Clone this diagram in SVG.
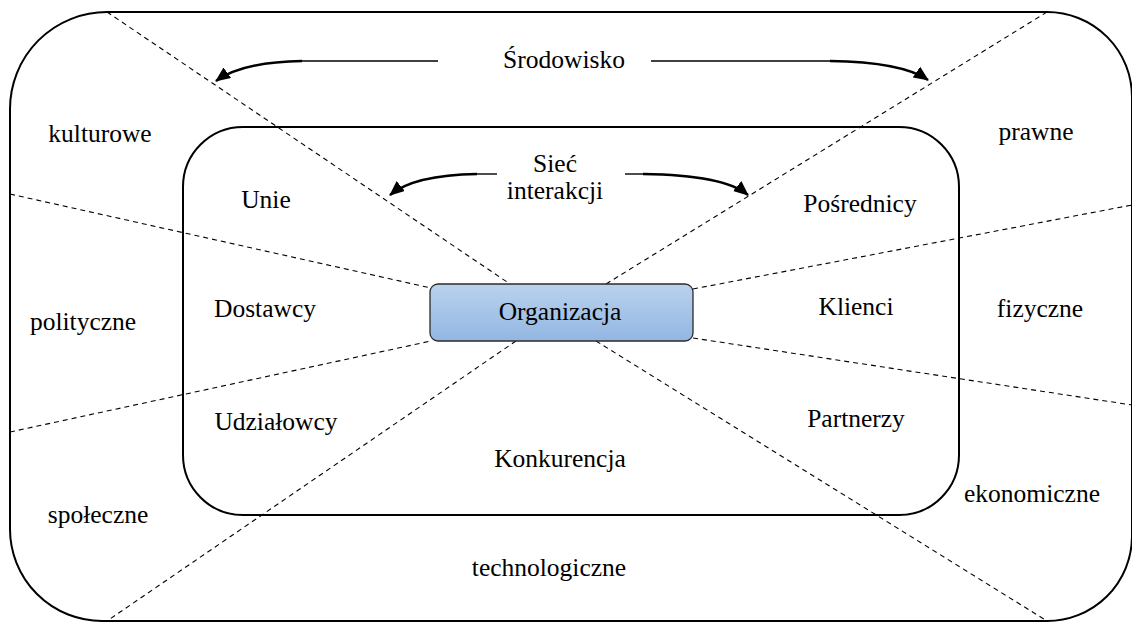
<svg xmlns="http://www.w3.org/2000/svg" width="1132" height="623" viewBox="0 0 1132 623">
  <style>
    .frame { fill: none; stroke: #000; stroke-width: 2; }
    .sector { fill: none; stroke: #000; stroke-width: 1.1; stroke-dasharray: 5 4; }
    .lead { fill: none; stroke: #000; stroke-width: 1.4; }
    .bend { fill: none; stroke: #000; stroke-width: 2.4; marker-end: url(#head); }
    .lbl { font-family: 'Liberation Serif', 'Times New Roman', serif; font-size: 25.5px; fill: #000; text-anchor: middle; }
  </style>
  <defs>
    <linearGradient id="orgFill" x1="0" y1="0" x2="0" y2="1">
      <stop offset="0" stop-color="#bad2ee"/>
      <stop offset="1" stop-color="#92b6e2"/>
    </linearGradient>
    <marker id="head" markerUnits="userSpaceOnUse" markerWidth="16" markerHeight="14" refX="14" refY="6.5" orient="auto">
      <path d="M0,0 L15,6.5 L0,13 Z" fill="#000"/>
    </marker>
  </defs>

  <!-- environment boundary -->
  <g id="environment">
    <path class="frame" d="M107,12 L1047,12 A85,85 0 0 1 1132,97 L1132,537 A85,85 0 0 1 1047,621 L102,621 A92,92 0 0 1 10,529 L10,109 A97,97 0 0 1 107,12 Z"/>
  </g>

  <!-- interaction network boundary -->
  <g id="network">
    <rect class="frame" x="183" y="127" width="776" height="388" rx="60" ry="60"/>
  </g>

  <!-- sector dividers and arrows -->
  <g id="connectors">
    <line class="sector" x1="107" y1="12" x2="510" y2="284"/>
    <line class="sector" x1="1047" y1="12" x2="606" y2="284"/>
    <line class="sector" x1="596" y1="341" x2="1047" y2="621"/>
    <line class="sector" x1="516" y1="341" x2="107" y2="621"/>
    <line class="sector" x1="10" y1="194" x2="431" y2="288"/>
    <line class="sector" x1="10" y1="432" x2="431" y2="341"/>
    <line class="sector" x1="693" y1="289" x2="1132" y2="205"/>
    <line class="sector" x1="693" y1="338" x2="1132" y2="405"/>

    <line class="lead" x1="438" y1="61" x2="302" y2="61"/>
    <path class="bend" d="M302,61 Q242,62 216,81"/>
    <line class="lead" x1="651" y1="61" x2="830" y2="61"/>
    <path class="bend" d="M830,61 Q902,62 928,80"/>

    <line class="lead" x1="497" y1="174" x2="477" y2="174"/>
    <path class="bend" d="M477,174 Q414,175 390,195"/>
    <line class="lead" x1="625" y1="174" x2="643" y2="174"/>
    <path class="bend" d="M643,174 Q724,175 748,195"/>
  </g>

  <g id="organizacja">
    <rect x="430" y="284" width="263" height="57" rx="8" ry="8" fill="url(#orgFill)" stroke="#2b2b2b" stroke-width="1.3"/>
    <text class="lbl" x="560" y="320">Organizacja</text>
  </g>

  <g id="srodowisko"><text class="lbl" x="564" y="68">Środowisko</text></g>
  <g id="siec"><text class="lbl" x="555" y="172">Sieć</text><text class="lbl" x="555" y="199">interakcji</text></g>

  <g id="kulturowe"><text class="lbl" x="100" y="142">kulturowe</text></g>
  <g id="prawne"><text class="lbl" x="1036" y="140">prawne</text></g>
  <g id="polityczne"><text class="lbl" x="83" y="330">polityczne</text></g>
  <g id="fizyczne"><text class="lbl" x="1040" y="317">fizyczne</text></g>
  <g id="spoleczne"><text class="lbl" x="98" y="523">społeczne</text></g>
  <g id="ekonomiczne"><text class="lbl" x="1032" y="502">ekonomiczne</text></g>
  <g id="technologiczne"><text class="lbl" x="549" y="576">technologiczne</text></g>

  <g id="unie"><text class="lbl" x="266" y="208">Unie</text></g>
  <g id="posrednicy"><text class="lbl" x="860" y="212">Pośrednicy</text></g>
  <g id="dostawcy"><text class="lbl" x="265" y="317">Dostawcy</text></g>
  <g id="klienci"><text class="lbl" x="856" y="315">Klienci</text></g>
  <g id="udzialowcy"><text class="lbl" x="276" y="430">Udziałowcy</text></g>
  <g id="partnerzy"><text class="lbl" x="856" y="427">Partnerzy</text></g>
  <g id="konkurencja"><text class="lbl" x="560" y="467">Konkurencja</text></g>
</svg>
